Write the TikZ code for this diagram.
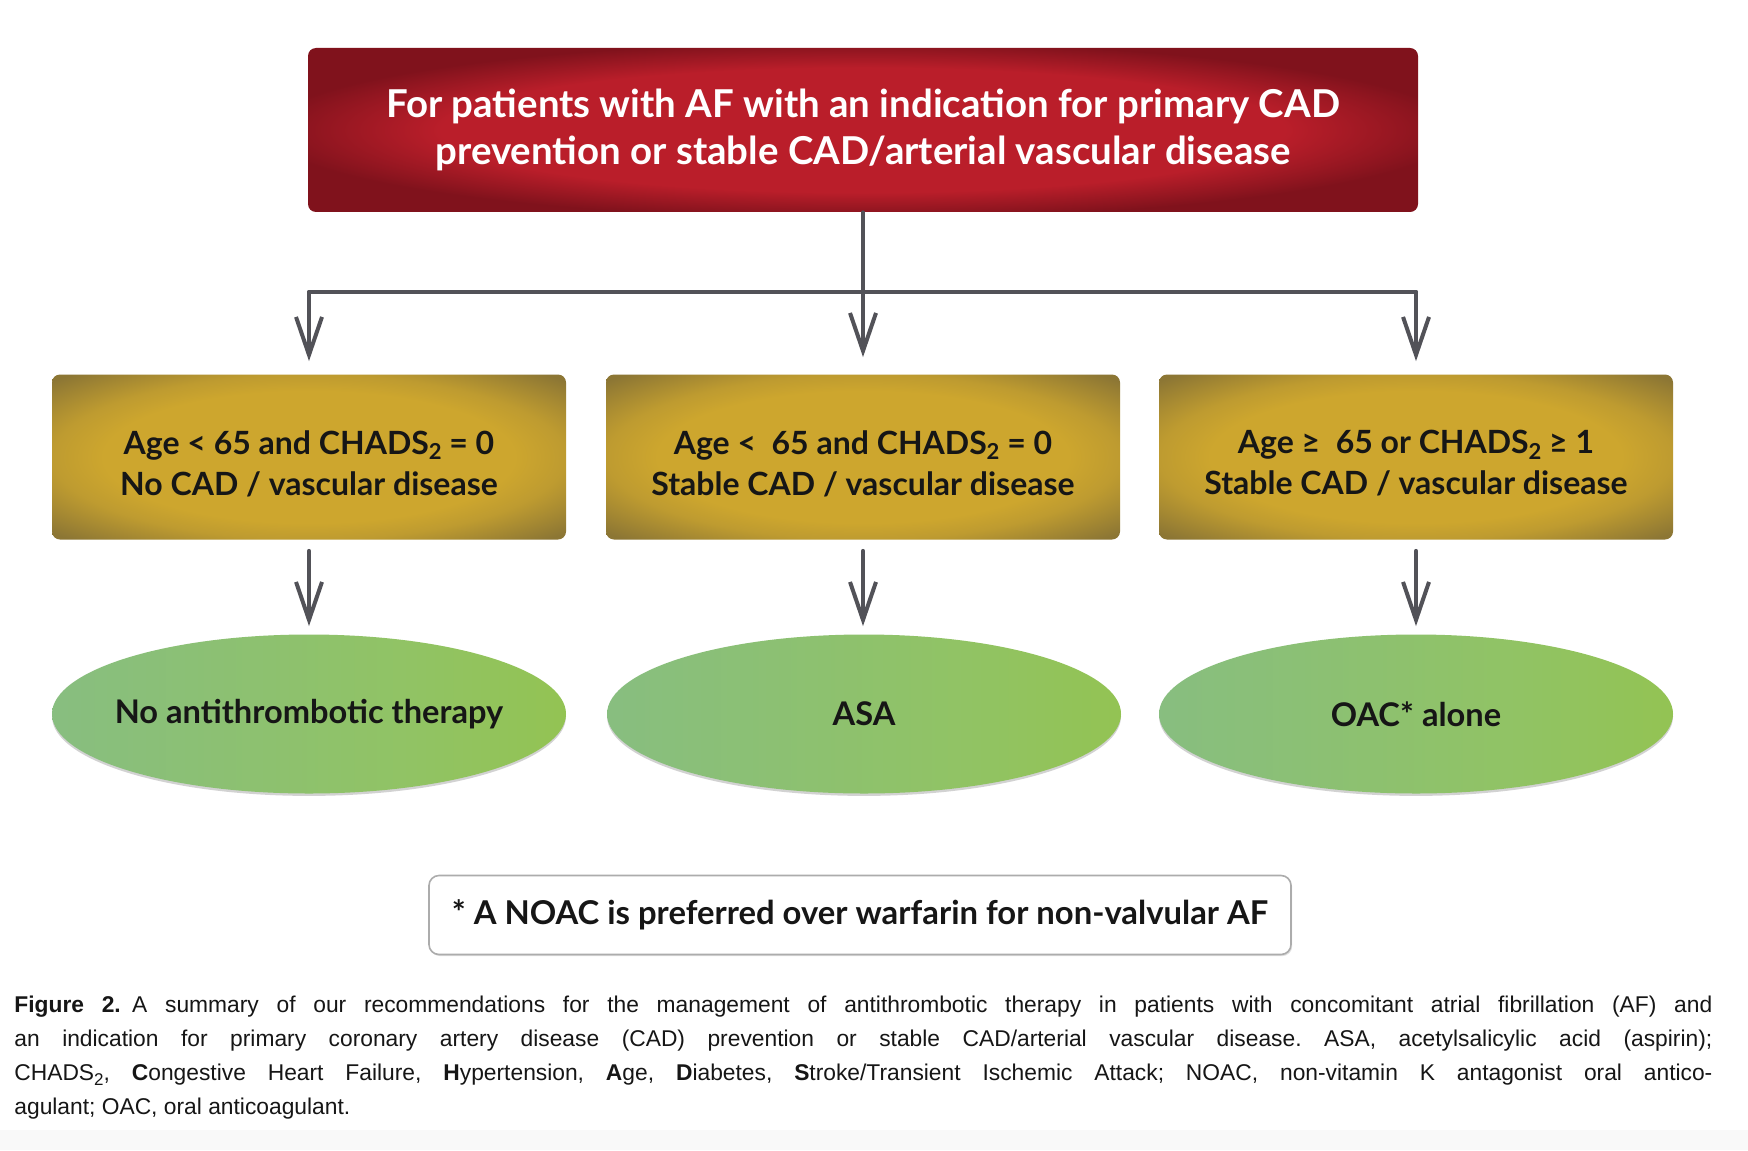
\documentclass[tikz,border=0pt]{standalone}
\usepackage{fontspec}
\setmainfont{Liberation Sans}
\newfontfamily\diag{Lato}
\newfontfamily\capfont{Liberation Sans}
\usetikzlibrary{arrows.meta,shapes.geometric,shadows}
\definecolor{redin}{RGB}{186,30,42}
\definecolor{redout}{RGB}{128,18,28}
\definecolor{goldin}{RGB}{205,166,46}
\definecolor{goldmid}{RGB}{190,155,48}
\definecolor{goldout}{RGB}{140,118,52}
\definecolor{g0}{RGB}{92,140,118}
\definecolor{g1}{RGB}{132,188,138}
\definecolor{g2}{RGB}{145,195,100}
\definecolor{g3}{RGB}{150,196,55}
\definecolor{arrowgray}{RGB}{82,82,88}
\definecolor{txt}{RGB}{22,22,22}
\pgfdeclareradialshading{redvig}{\pgfpoint{0bp}{0bp}}{color(0bp)=(redin); color(19bp)=(redin); color(27bp)=(redout); color(50bp)=(redout)}
\pgfdeclareradialshading{goldvig}{\pgfpoint{0bp}{0bp}}{color(0bp)=(goldin); color(20bp)=(goldin); color(25bp)=(goldmid); color(34bp)=(goldout); color(50bp)=(goldout)}
\pgfdeclarehorizontalshading{greenh}{100bp}{color(0bp)=(g0); color(12bp)=(g1); color(60bp)=(g2); color(100bp)=(g3)}
\newcommand\subtwo[1][11]{\raisebox{-0.35ex}{\fontsize{#1}{#1}\selectfont 2}}
\tikzset{
  topbox/.style={rectangle, rounded corners=4pt, minimum width=555pt, minimum height=82pt,
    shading=redvig, text=white, align=center,
    font=\diag\bfseries\fontsize{19.2}{23.5}\selectfont},
  condbox/.style={rectangle, rounded corners=4pt, minimum width=257pt, minimum height=82.5pt,
    shading=goldvig},
  condtext/.style={text=txt, align=center, yshift=-3.2pt,
    font=\diag\bfseries\fontsize{16}{20.5}\selectfont},
  resell/.style={ellipse, inner sep=0pt, minimum width=257pt, minimum height=79.5pt,
    shading=greenh,
    drop shadow={shadow xshift=0pt, shadow yshift=-1.2pt, opacity=0.35}},
  restext/.style={text=txt, align=center,
    font=\diag\bfseries\fontsize{16.3}{21}\selectfont},
  notebox/.style={rectangle, rounded corners=5pt, minimum width=431pt, minimum height=39.5pt,
    draw=gray!65, line width=0.8pt, fill=white, text=txt,
    drop shadow={shadow xshift=0.6pt, shadow yshift=-0.8pt, opacity=0.25},
    font=\diag\bfseries\fontsize{16.4}{21}\selectfont},
  conn/.style={draw=arrowgray, line width=2pt, line cap=round},
  arr/.style={conn, -{Straight Barb[length=19pt,width=13pt]}},
}
\begin{document}
\begin{tikzpicture}[x=0.5pt,y=-0.5pt]
\useasboundingbox (0,0) rectangle (1748,1150);
\fill[white] (0,0) rectangle (1748,1150);
\fill[gray!5] (0,1130) rectangle (1748,1150);

\node[topbox] (top) at (863,130) {For patients with AF with an indication for primary CAD\\prevention or stable CAD/arterial vascular disease};

\node[condbox, label={[condtext]center:{Age < 65 and CHADS\subtwo\ = 0\\No CAD / vascular disease}}] (b1) at (309,457) {};
\node[condbox, label={[condtext]center:{Age <\ \ 65 and CHADS\subtwo\ = 0\\Stable CAD / vascular disease}}] (b2) at (863,457) {};
\node[condbox, label={[condtext]center:{Age ≥\ \ 65 or CHADS\subtwo\ ≥ 1\\Stable CAD / vascular disease}}] (b3) at (1416,457) {};

\node[resell, label={[restext]center:No antithrombotic therapy}] (e1) at (309,714) {};
\node[resell, label={[restext]center:ASA}] (e2) at (864,714) {};
\node[resell, label={[restext]center:OAC* alone}] (e3) at (1416,714) {};

\node[notebox] (note) at (860,915) {* A NOAC is preferred over warfarin for non-valvular AF};

\coordinate (j) at (top.south |- 0,292);
\draw[conn] (top.south) -- (j);
\draw[conn] (b1.north |- j) -- (b3.north |- j);
\draw[arr, shorten >=6.5pt] (b1.north |- j) -- (b1.north);
\draw[arr, shorten >=8.5pt] (j) -- (b2.north);
\draw[arr, shorten >=6.5pt] (b3.north |- j) -- (b3.north);
\draw[arr, shorten <=5.5pt, shorten >=4pt] (b1.south) -- (e1.north);
\draw[arr, shorten <=5.5pt, shorten >=4pt] (b2.south) -- (b2.south |- e2.north);
\draw[arr, shorten <=5.5pt, shorten >=4pt] (b3.south) -- (e3.north);

\node[anchor=north west, inner sep=0pt, text width=849pt, align=justify, text=txt,
  font=\capfont\fontsize{11.4}{17}\selectfont\frenchspacing] (cap) at (14,996)
{\textbf{Figure 2.}\enspace A summary of our recommendations for the management of antithrombotic therapy in patients with concomitant atrial fibrillation (AF) and\linebreak
an indication for primary coronary artery disease (CAD) prevention or stable CAD/arterial vascular disease. ASA, acetylsalicylic acid (aspirin);\linebreak
CHADS\subtwo[8.5], \textbf{C}ongestive Heart Failure, \textbf{H}ypertension, \textbf{A}ge, \textbf{D}iabetes, \textbf{S}troke/Transient Ischemic Attack; NOAC, non-vitamin K antagonist oral antico-\linebreak
agulant; OAC, oral anticoagulant.};
\end{tikzpicture}
\end{document}
